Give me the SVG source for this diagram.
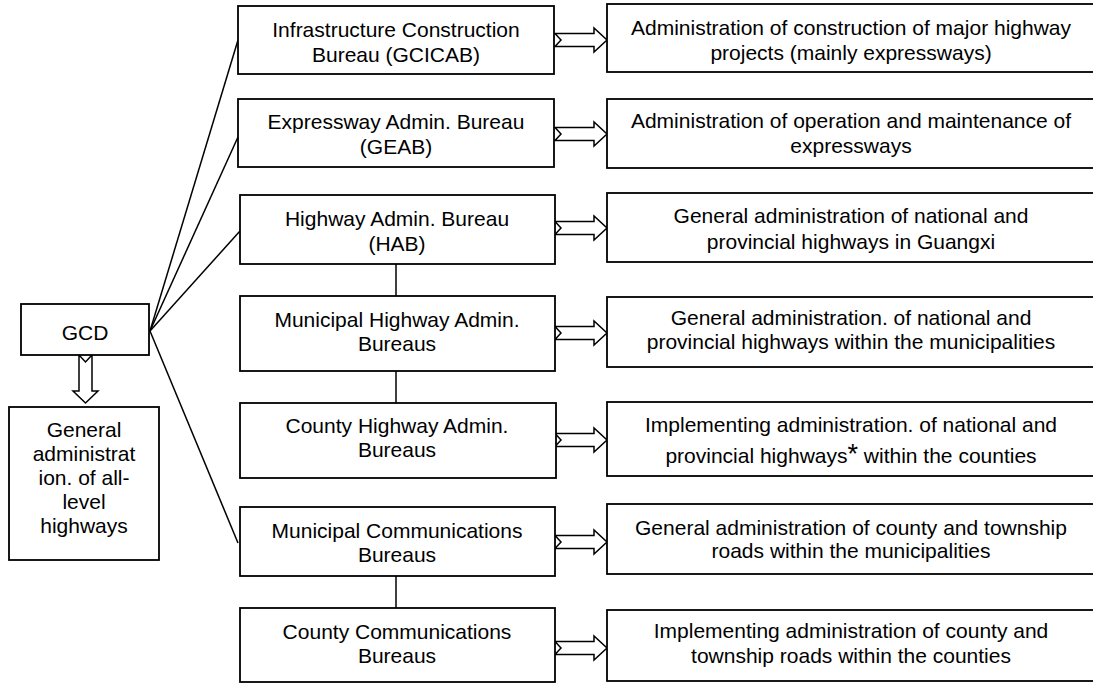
<svg xmlns="http://www.w3.org/2000/svg" xmlns:xlink="http://www.w3.org/1999/xlink" width="1093" height="683" viewBox="0 0 1093 683">
  <style>
    .box { fill: #ffffff; stroke: #000000; stroke-width: 1.8; }
    .link { fill: none; stroke: #000000; stroke-width: 1.5; }
    .arrow { fill: #ffffff; stroke: #000000; stroke-width: 1.5; stroke-linejoin: miter; }
    text { font-family: "Liberation Sans", Arial, sans-serif; font-size: 21px; fill: #000000; text-anchor: middle; }
  </style>
  <defs>
    <!-- hollow block arrow with notched tail; tip at origin -->
    <path id="blockArrow" class="arrow" d="M -52 -6.5 L -13 -6.5 L -13 -12 L 0 0 L -13 12 L -13 6.5 L -52 6.5 L -46 0 Z"/>
  </defs>

  <!-- connectors -->
  <g id="connectors">
    <line class="link" x1="150" y1="331" x2="238" y2="40"/>
    <line class="link" x1="150" y1="331" x2="238" y2="137"/>
    <line class="link" x1="150" y1="331" x2="240" y2="231"/>
    <line class="link" x1="150" y1="331" x2="238" y2="543"/>
    <line class="link" x1="396" y1="264" x2="396" y2="296"/>
    <line class="link" x1="396" y1="371" x2="396" y2="403"/>
    <line class="link" x1="396" y1="576" x2="396" y2="608"/>
    <use xlink:href="#blockArrow" x="607" y="40"/>
    <use xlink:href="#blockArrow" x="607" y="134"/>
    <use xlink:href="#blockArrow" x="607" y="228"/>
    <use xlink:href="#blockArrow" x="607" y="333"/>
    <use xlink:href="#blockArrow" x="607" y="440"/>
    <use xlink:href="#blockArrow" x="607" y="542"/>
    <use xlink:href="#blockArrow" x="607" y="648"/>
    <!-- downward arrow from GCD -->
    <path class="arrow" d="M 79 355 L 85.5 362 L 92 355 L 92 391 L 98 391 L 85.5 403 L 73 391 L 79 391 Z"/>
  </g>

  <g id="gcd">
    <rect class="box" x="21" y="304" width="128" height="51"/>
    <text x="85" y="340">GCD</text>
  </g>

  <g id="gcd-role">
    <rect class="box" x="9" y="407" width="150" height="153"/>
    <text x="84" y="437">General</text>
    <text x="84" y="461">administrat</text>
    <text x="84" y="485">ion. of all-</text>
    <text x="84" y="509">level</text>
    <text x="84" y="533">highways</text>
  </g>

  <g id="gcicab">
    <rect class="box" x="238" y="6" width="316" height="68"/>
    <text x="396" y="37">Infrastructure Construction</text>
    <text x="396" y="62">Bureau (GCICAB)</text>
  </g>
  <g id="geab">
    <rect class="box" x="238" y="99" width="316" height="68"/>
    <text x="396" y="129">Expressway Admin. Bureau</text>
    <text x="396" y="154">(GEAB)</text>
  </g>
  <g id="hab">
    <rect class="box" x="240" y="195" width="315" height="69"/>
    <text x="397" y="226">Highway Admin. Bureau</text>
    <text x="397" y="251">(HAB)</text>
  </g>
  <g id="municipal-highway">
    <rect class="box" x="240" y="296" width="315" height="75"/>
    <text x="397" y="327">Municipal Highway Admin.</text>
    <text x="397" y="351">Bureaus</text>
  </g>
  <g id="county-highway">
    <rect class="box" x="240" y="403" width="316" height="75"/>
    <text x="397" y="433">County Highway Admin.</text>
    <text x="397" y="457">Bureaus</text>
  </g>
  <g id="municipal-comm">
    <rect class="box" x="240" y="507" width="315" height="69"/>
    <text x="397" y="538">Municipal Communications</text>
    <text x="397" y="562">Bureaus</text>
  </g>
  <g id="county-comm">
    <rect class="box" x="240" y="608" width="315" height="74"/>
    <text x="397" y="639">County Communications</text>
    <text x="397" y="663">Bureaus</text>
  </g>

  <g id="role-gcicab">
    <rect class="box" x="607" y="4" width="488" height="68"/>
    <text x="851" y="35">Administration of construction of major highway</text>
    <text x="851" y="60">projects (mainly expressways)</text>
  </g>
  <g id="role-geab">
    <rect class="box" x="607" y="99" width="488" height="69"/>
    <text x="851" y="128">Administration of operation and maintenance of</text>
    <text x="851" y="153">expressways</text>
  </g>
  <g id="role-hab">
    <rect class="box" x="607" y="193" width="488" height="69"/>
    <text x="851" y="223">General administration of national and</text>
    <text x="851" y="249">provincial highways in Guangxi</text>
  </g>
  <g id="role-municipal-highway">
    <rect class="box" x="607" y="297" width="488" height="70"/>
    <text x="851" y="325">General administration. of national and</text>
    <text x="851" y="349">provincial highways within the municipalities</text>
  </g>
  <g id="role-county-highway">
    <rect class="box" x="607" y="402" width="488" height="74"/>
    <text x="851" y="432">Implementing administration. of national and</text>
    <text x="851" y="463">provincial highways<tspan font-size="27">*</tspan> within the counties</text>
  </g>
  <g id="role-municipal-comm">
    <rect class="box" x="607" y="504" width="488" height="70"/>
    <text x="851" y="535">General administration of county and township</text>
    <text x="851" y="558">roads within the municipalities</text>
  </g>
  <g id="role-county-comm">
    <rect class="box" x="607" y="610" width="488" height="71"/>
    <text x="851" y="638">Implementing administration of county and</text>
    <text x="851" y="663">township roads within the counties</text>
  </g>
</svg>
